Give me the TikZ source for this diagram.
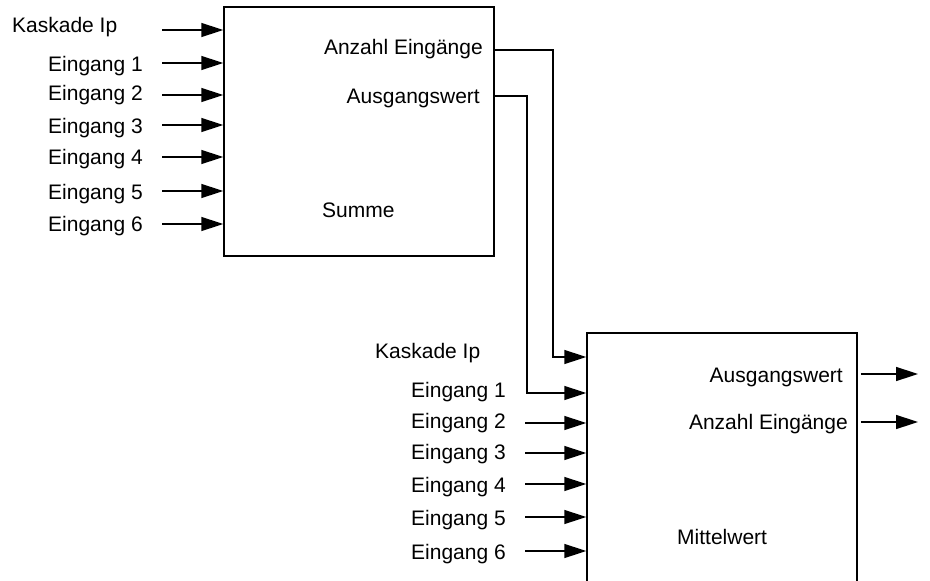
\documentclass[tikz,border=0pt]{standalone}
\usepackage{fontspec}
\setmainfont{Liberation Sans}
\usepackage{tikz}
\usetikzlibrary{arrows.meta, positioning, calc}

\begin{document}
\begin{tikzpicture}[
      x=1pt, y=-1pt,
      font=\fontsize{21}{25}\selectfont,
      blk/.style={draw, line width=1.5pt, minimum width=270pt, inner sep=0pt},
      lbl/.style={inner sep=0pt},
      arr/.style={line width=1.5pt, -{Triangle[length=22pt, width=14pt]}},
    ]
    \useasboundingbox (0,0) rectangle (930,581);

    % top block: Summe
    \node[blk, minimum height=249pt] (sum) at (359,131.5) {};
    \node[lbl, anchor=base west] (sumT) at (322,217) {Summe};
    \node[lbl, anchor=base east] (sumO1) at (483,54) {Anzahl Eingänge};
    \node[lbl, anchor=base east] (sumO2) at (480,103) {Ausgangswert};

    \node[lbl, anchor=base west] (sK) at (12,32) {Kaskade Ip};
    \coordinate (sa0) at (162,30);
    \draw[arr] (sa0) -- (sa0 -| sum.west);
    \foreach \i/\y/\b in {1/63/71, 2/95/100, 3/125/133,
                          4/157/164, 5/191/199, 6/224/231} {
      \node[lbl, anchor=base east] (sE\i) at (143,\b) {Eingang \i};
      \coordinate (sa\i) at (162,\y);
      \draw[arr] (sa\i) -- (sa\i -| sum.west);
    }

    % bottom block: Mittelwert
    \node[blk, minimum height=287pt] (mit) at (722,476.5) {};
    \node[lbl, anchor=base west] (mitT) at (677,544) {Mittelwert};
    \node[lbl, anchor=base east] (mitO1) at (843,382) {Ausgangswert};
    \node[lbl, anchor=base east] (mitO2) at (848,429) {Anzahl Eingänge};

    \node[lbl, anchor=base west] (mK) at (375,358) {Kaskade Ip};
    \node[lbl, anchor=base east] (mE1) at (506,397) {Eingang 1};
    \foreach \i/\y/\b in {2/423/428, 3/453/459, 4/484/492,
                          5/517/525, 6/551/559} {
      \node[lbl, anchor=base east] (mE\i) at (506,\b) {Eingang \i};
      \coordinate (ma\i) at (525,\y);
      \draw[arr] (ma\i) -- (ma\i -| mit.west);
    }

    % cascade wiring
    \coordinate (so1) at (sum.east |- 0,50);
    \coordinate (so2) at (sum.east |- 0,96);
    \coordinate (mi0) at (mit.west |- 0,357);
    \coordinate (mi1) at (mit.west |- 0,393);
    \draw[arr] (so1) -- (553,50) |- (mi0);
    \draw[arr] (so2) -- (527,96) |- (mi1);

    % outputs
    \coordinate (mo1) at (918,374);
    \coordinate (mo2) at (918,422);
    \draw[arr] ($(mit.east |- mo1)+(3,0)$) -- (mo1);
    \draw[arr] ($(mit.east |- mo2)+(3,0)$) -- (mo2);
\end{tikzpicture}
\end{document}
